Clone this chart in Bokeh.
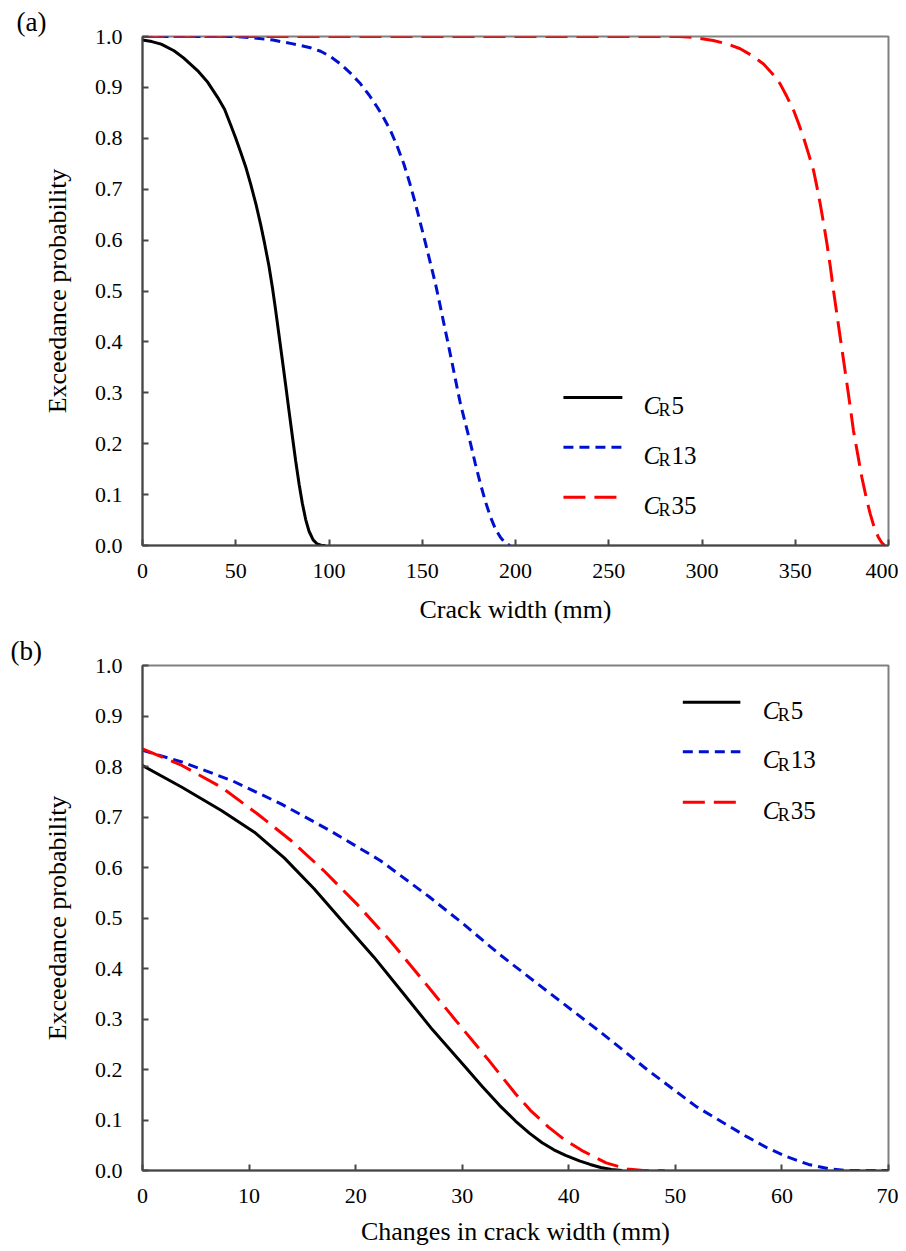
from bokeh.plotting import figure
from bokeh.layouts import column
from bokeh.models import Range1d, FixedTicker, PrintfTickFormatter, Label, Arrow
from bokeh.embed import file_html
from bokeh.resources import INLINE

# ---------------- data ----------------
# Panel (a): exceedance probability vs crack width (mm)
a_cr5_x = [0, 5, 10, 16.9, 22, 29.5, 35, 40.2, 44, 47.3, 50, 52.7, 55.5, 58, 61, 63.4, 65.5,
           67.8, 69.7, 71.4, 73.2, 75, 76.8, 78.5, 80.3, 82.1, 84, 85.7, 87.5, 89.3, 91.5, 93.7, 96, 98]
a_cr5_y = [0.993, 0.99, 0.985, 0.972, 0.958, 0.933, 0.91, 0.881, 0.857, 0.826, 0.80, 0.772, 0.742,
           0.71, 0.668, 0.63, 0.593, 0.549, 0.506, 0.462, 0.413, 0.364, 0.314, 0.266, 0.216, 0.167,
           0.12, 0.083, 0.051, 0.028, 0.011, 0.003, 0.0, 0.0]

a_cr13_x = [0, 50, 60, 70, 80, 90, 95.5, 101, 106.2, 111.5, 116.9, 121.5, 125.9, 129.5, 133, 136.5,
            140.1, 143.3, 146.4, 149.1, 151.8, 154.5, 157.1, 159.4, 161.6, 163.9, 166.1, 168.3, 170.5,
            173.2, 175.9, 178.5, 181.2, 183.9, 186.6, 189.3, 191.9, 194.5, 197]
a_cr13_y = [1.0, 1.0, 0.997, 0.993, 0.986, 0.978, 0.971, 0.96, 0.946, 0.928, 0.907, 0.885, 0.861,
            0.839, 0.815, 0.785, 0.75, 0.712, 0.671, 0.632, 0.593, 0.553, 0.514, 0.475, 0.436, 0.396,
            0.357, 0.317, 0.278, 0.239, 0.2, 0.16, 0.121, 0.086, 0.056, 0.032, 0.016, 0.005, 0.0]

a_cr35_x = [0, 250, 288, 296, 306, 313, 320.5, 327, 333, 337.5, 341.9, 345.5, 349.1, 351.8, 354.4,
            357.1, 359.8, 361.6, 363.4, 365.2, 367, 368.8, 370.5, 372.3, 374.1, 375.9, 377.7, 379.5,
            381.2, 383.5, 385.7, 388, 390.2, 392.4, 394.6, 396.5, 398]
a_cr35_y = [1.0, 1.0, 1.0, 0.998, 0.992, 0.986, 0.976, 0.962, 0.946, 0.928, 0.907, 0.882, 0.855,
            0.829, 0.802, 0.77, 0.737, 0.705, 0.671, 0.633, 0.593, 0.548, 0.501, 0.455, 0.409, 0.364,
            0.318, 0.272, 0.226, 0.179, 0.134, 0.095, 0.062, 0.035, 0.016, 0.005, 0.0]

# Panel (b): exceedance probability vs changes in crack width (mm)
b_cr5_x = [0, 3.7, 7.4, 10.5, 13.3, 16.1, 18.9, 21.7, 24.5, 27.2, 30, 31.9, 33.5, 35, 36.3, 37.5,
           38.6, 39.7, 41, 42, 43, 44, 45]
b_cr5_y = [0.802, 0.759, 0.713, 0.67, 0.619, 0.558, 0.49, 0.423, 0.35, 0.279, 0.212, 0.166, 0.129,
           0.098, 0.074, 0.055, 0.041, 0.030, 0.019, 0.012, 0.006, 0.002, 0.0]

b_cr13_x = [0, 3.7, 8.4, 13, 17.6, 22.3, 26.9, 30, 33.5, 38.1, 42.8, 47.4, 52, 56.7, 58.6, 60.5,
            62.5, 64.5, 66, 70]
b_cr13_y = [0.832, 0.809, 0.772, 0.726, 0.673, 0.614, 0.542, 0.49, 0.428, 0.353, 0.277, 0.199, 0.126,
            0.067, 0.045, 0.027, 0.012, 0.003, 0.0, 0.0]

b_cr35_x = [0, 3.7, 7.4, 10.8, 13.9, 17, 20.1, 23.2, 26.3, 29.4, 32.5, 35, 36.5, 38.1, 39.6, 41.2,
            43.5, 45.5, 47, 49]
b_cr35_y = [0.835, 0.802, 0.759, 0.706, 0.654, 0.594, 0.528, 0.456, 0.377, 0.297, 0.218, 0.152,
            0.117, 0.086, 0.061, 0.040, 0.015, 0.003, 0.0, 0.0]

series_names = ["5", "13", "35"]
series_colors = ["#000000", "#0010d0", "#ff0000"]
series_dash = ["solid", "10 6", "22 9"]

a_xticks = [0, 50, 100, 150, 200, 250, 300, 350, 400]
b_xticks = [0, 10, 20, 30, 40, 50, 60, 70]
yticks = [0.0, 0.1, 0.2, 0.3, 0.4, 0.5, 0.6, 0.7, 0.8, 0.9, 1.0]

FONT = "Liberation Serif"


def style(p, xticks, xlabel, panel, offset):
    p.xaxis.ticker = FixedTicker(ticks=xticks)
    p.yaxis.ticker = FixedTicker(ticks=yticks)
    p.yaxis.formatter = PrintfTickFormatter(format="%.1f")
    p.xgrid.visible = False
    p.ygrid.visible = False
    p.outline_line_color = "#808080"
    p.outline_line_width = 2
    for ax in (p.xaxis, p.yaxis):
        ax.axis_line_color = "#474747"
        ax.axis_line_width = 2
        ax.major_tick_in = 6
        ax.major_tick_out = 0
        ax.major_tick_line_color = "#474747"
        ax.major_tick_line_width = 2
        ax.minor_tick_line_color = None
        ax.major_label_text_font = FONT
        ax.major_label_text_font_size = "22px"
        ax.major_label_text_color = "#000000"
        ax.axis_label_text_font = FONT
        ax.axis_label_text_font_size = "26px"
        ax.axis_label_text_font_style = "normal"
        ax.axis_label_text_color = "#000000"
    p.xaxis.axis_label = xlabel
    p.yaxis.axis_label = "Exceedance probability"
    p.xaxis.major_label_standoff = 18
    p.yaxis.major_label_standoff = 20
    p.yaxis.axis_label_standoff = 20
    p.title.text = panel
    p.title.align = "left"
    p.title.offset = offset
    p.title.standoff = 0
    p.title.text_font = FONT
    p.title.text_font_size = "27px"
    p.title.text_font_style = "normal"
    p.title.text_color = "#000000"


def legend(p, x0, x1, xt, rows):
    for name, color, dash, y in zip(series_names, series_colors, series_dash, rows):
        p.add_layout(Arrow(end=None, x_start=x0, y_start=y, x_end=x1, y_end=y,
                           line_color=color, line_width=3, line_dash=dash))
        p.add_layout(Label(x=xt, y=y, y_offset=-8, text="C", text_font=FONT,
                           text_font_style="italic", text_font_size="25px",
                           text_baseline="alphabetic", text_color="#000000"))
        p.add_layout(Label(x=xt, y=y, x_offset=15, y_offset=-13, text="R", text_font=FONT,
                           text_font_size="18px", text_baseline="alphabetic",
                           text_color="#000000"))
        p.add_layout(Label(x=xt, y=y, x_offset=28, y_offset=-8, text=name, text_font=FONT,
                           text_font_size="25px", text_baseline="alphabetic",
                           text_color="#000000"))


# ---------------- panel (a) ----------------
p1 = figure(width=898, height=633, x_range=Range1d(0, 400), y_range=Range1d(0, 1),
            output_backend="svg", toolbar_location=None,
            min_border_left=142, min_border_right=10, min_border_top=36, min_border_bottom=88)
style(p1, a_xticks, "Crack width (mm)", "(a)", -126)
p1.xaxis.axis_label_standoff = 14
for xs, ys, c, d in zip([a_cr5_x, a_cr13_x, a_cr35_x], [a_cr5_y, a_cr13_y, a_cr35_y],
                        series_colors, series_dash):
    p1.line(xs, ys, line_color=c, line_width=3, line_dash=d)
legend(p1, 225.7, 257.3, 268.6, [0.291, 0.193, 0.095])

# ---------------- panel (b) ----------------
p2 = figure(width=898, height=618, x_range=Range1d(0, 70), y_range=Range1d(0, 1),
            output_backend="svg", toolbar_location=None,
            min_border_left=140, min_border_right=4, min_border_top=32, min_border_bottom=81)
style(p2, b_xticks, "Changes in crack width (mm)", "(b)", -132)
p2.xaxis.axis_label_standoff = 11
for xs, ys, c, d in zip([b_cr5_x, b_cr13_x, b_cr35_x], [b_cr5_y, b_cr13_y, b_cr35_y],
                        series_colors, series_dash):
    p2.line(xs, ys, line_color=c, line_width=3, line_dash=d)
legend(p2, 50.7, 56.1, 58.2, [0.927, 0.829, 0.729])

layout = column(p1, p2)
open("out.html", "w").write(file_html(layout, INLINE))
